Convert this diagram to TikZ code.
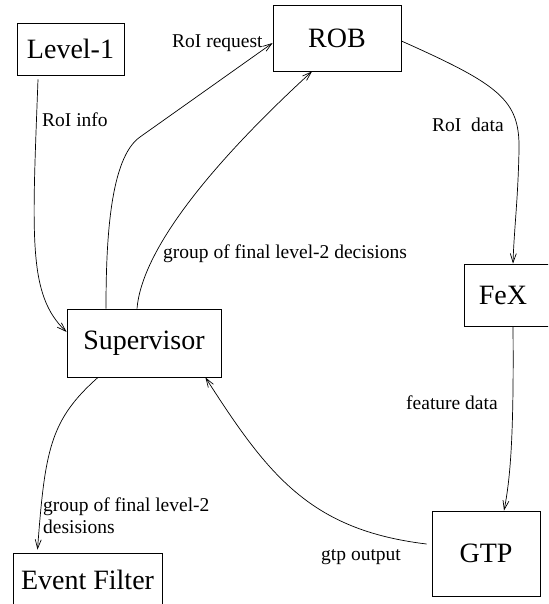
\documentclass[tikz,border=0pt]{standalone}
\usepackage{fontspec}
\setmainfont{Liberation Serif}
\usetikzlibrary{arrows.meta}
\begin{document}
\begin{tikzpicture}[x=1pt,y=-1pt,
  box/.style={draw, line width=0.8pt, inner sep=0pt, font=\fontsize{28}{32}\selectfont},
  boxtext/.style={inner sep=0pt, font=\fontsize{28}{32}\selectfont},
  lbl/.style={inner sep=0pt, anchor=west, font=\fontsize{19.5}{22}\selectfont},
  flow/.style={line width=0.7pt, -{Straight Barb[length=9pt,width=6pt,line width=0.7pt]}}]
\clip (0,0) rectangle (548,604);
% blocks
\node[box, minimum width=107, minimum height=52] (lvl) at (70.5,49) {Level-1};
\node[box, minimum width=128, minimum height=66] (rob) at (337,38) {ROB};
\node[box, minimum width=96, minimum height=62] (fex) at (512,295) {};
\node[boxtext] (fextext) at (503,295) {FeX};
\node[box, minimum width=154, minimum height=68] (sup) at (144,343) {Supervisor};
\node[box, minimum width=149, minimum height=54] (ef) at (87.5,580) {Event Filter};
\node[box, minimum width=108, minimum height=85] (gtp) at (486,553.5) {GTP};
% data flow
\draw[flow] ([xshift=-32.5pt,yshift=-4pt]lvl.south) .. controls (32,240) and (28,295) .. ([yshift=11pt]sup.west);
\draw[flow] ([xshift=-38pt]sup.north) .. controls (106,240) and (110,158) .. (140,137) -- ([yshift=-5pt]rob.west);
\draw[flow] ([xshift=-7pt]sup.north) .. controls (142,250) and (210,165) .. ([xshift=-25pt]rob.south);
\draw[flow] ([yshift=-3pt]rob.east) .. controls (500,85) and (520,100) .. (519,150) .. controls (518,200) and (514,230) .. ([xshift=1pt]fex.north);
\draw[flow] ([xshift=1pt]fex.south) .. controls (514,440) and (510,480) .. ([xshift=18pt]gtp.north);
\draw[flow] ([xshift=-5pt,yshift=9.5pt]gtp.west) .. controls (310,530) and (268,475) .. ([xshift=-16pt]sup.south east);
\draw[flow] ([xshift=-46pt]sup.south) .. controls (50,420) and (45,450) .. ([xshift=-50pt,yshift=3pt]ef.north);
% labels
\node[lbl] (l1) at (42,120) {RoI info};
\node[lbl] (l2) at (172,43) {RoI request};
\node[lbl] (l3) at (163,254) {group of final level-2 decisions};
\node[lbl] (l4) at (432,125) {RoI\ \ data};
\node[lbl] (l5) at (406,403) {feature data};
\node[lbl] (l6) at (321,557) {gtp output};
\node[lbl, align=left] (l7) at (43,516) {group of final level-2\\desisions};
\end{tikzpicture}
\end{document}
